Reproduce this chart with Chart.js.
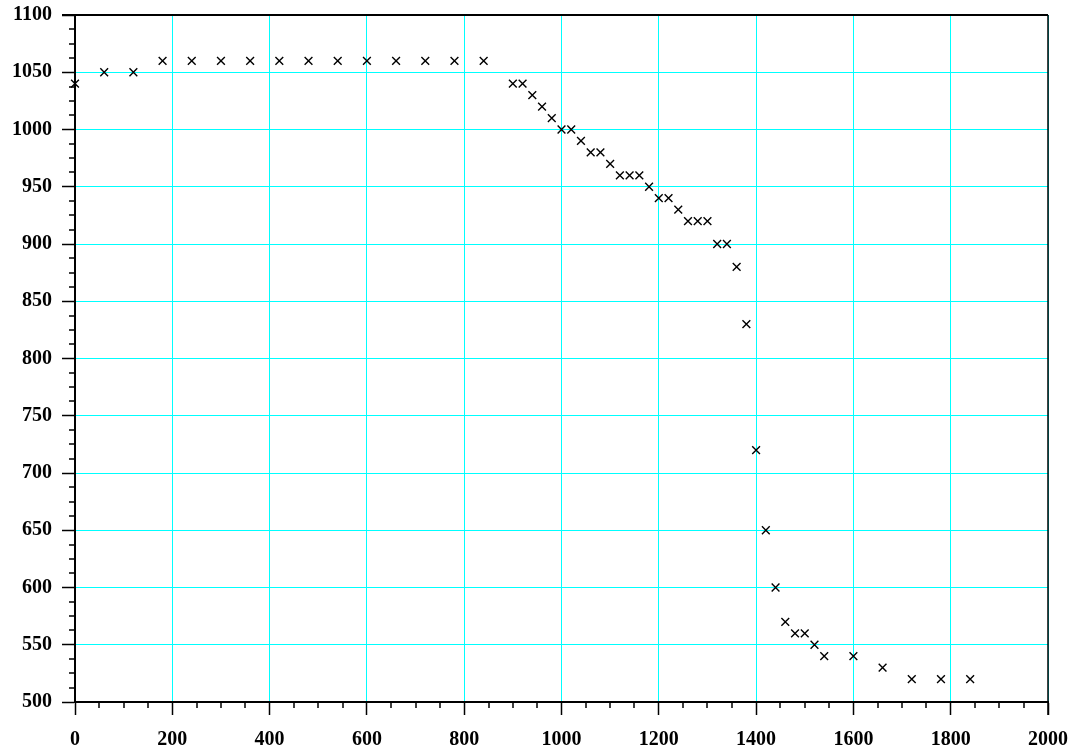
<!DOCTYPE html>
<html>
<head>
<meta charset="utf-8">
<script src="https://cdn.jsdelivr.net/npm/chart.js@4/dist/chart.umd.min.js"></script>
<style>
  html, body { margin: 0; padding: 0; background: #fff; }
  #wrap { width: 1068px; height: 752px; }
</style>
</head>
<body>
<div id="wrap"><canvas id="chart" width="1068" height="752"></canvas></div>
<script>
// time-like x values and readings
let xValues = [0, 60, 120, 180, 240, 300, 360, 420, 480, 540, 600, 660, 720, 780, 840,
    900, 920, 940, 960, 980, 1000, 1020, 1040, 1060, 1080, 1100, 1120, 1140, 1160, 1180,
    1200, 1220, 1240, 1260, 1280, 1300, 1320, 1340, 1360, 1380, 1400, 1420, 1440, 1460,
    1480, 1500, 1520, 1540, 1600, 1660, 1720, 1780, 1840];
let yValues = [1040, 1050, 1050, 1060, 1060, 1060, 1060, 1060, 1060, 1060, 1060, 1060, 1060, 1060, 1060,
    1040, 1040, 1030, 1020, 1010, 1000, 1000, 990, 980, 980, 970, 960, 960, 960, 950,
    940, 940, 930, 920, 920, 920, 900, 900, 880, 830, 720, 650, 600, 570,
    560, 560, 550, 540, 540, 530, 520, 520, 520];
let xRange = [0, 2000];
let yRange = [500, 1100];
let xMajor = 200, xMinor = 50;
let yMajor = 50, yMinor = 12.5;

let points = [];
for (let i = 0; i < xValues.length; i++) {
    points.push({ x: xValues[i], y: yValues[i] });
}

const cyan = 'rgb(0,255,255)';
const tickFont = { family: '"Liberation Serif", "Times New Roman", serif', size: 20, weight: 'bold', lineHeight: 1 };

// minor ticks and the top / right frame lines
const frame = {
    id: 'frame',
    afterDraw(chart) {
        const ctx = chart.ctx;
        const a = chart.chartArea;
        const sx = chart.scales.x, sy = chart.scales.y;
        ctx.save();
        ctx.strokeStyle = '#000';
        ctx.lineWidth = 1.5;
        ctx.beginPath();
        for (let v = xRange[0]; v <= xRange[1]; v += xMinor) {
            if (v % xMajor === 0) continue;
            let px = Math.round(sx.getPixelForValue(v));
            ctx.moveTo(px, a.bottom);
            ctx.lineTo(px, a.bottom + 6);
        }
        for (let v = yRange[0]; v <= yRange[1]; v += yMinor) {
            if (v % yMajor === 0) continue;
            let py = Math.round(sy.getPixelForValue(v));
            ctx.moveTo(a.left, py);
            ctx.lineTo(a.left - 6, py);
        }
        ctx.stroke();
        ctx.lineWidth = 2;
        ctx.beginPath();
        ctx.moveTo(a.left - 13, a.top);
        ctx.lineTo(a.right, a.top);
        ctx.stroke();
        ctx.lineWidth = 1.5;
        ctx.beginPath();
        ctx.moveTo(a.right, a.top);
        ctx.lineTo(a.right, a.bottom + 13);
        ctx.stroke();
        ctx.restore();
    }
};

new Chart(document.getElementById('chart').getContext('2d'), {
    type: 'scatter',
    data: {
        datasets: [{
            data: points,
            pointStyle: 'crossRot',
            pointRadius: 5.5,
            pointHoverRadius: 5.5,
            borderColor: '#000',
            backgroundColor: '#000',
            borderWidth: 1.4,
            clip: false
        }]
    },
    options: {
        responsive: false,
        animation: false,
        layout: { padding: { left: 0, right: 20, top: 15, bottom: 0 } },
        plugins: { legend: { display: false }, tooltip: { enabled: false } },
        scales: {
            x: {
                type: 'linear',
                min: xRange[0],
                max: xRange[1],
                afterFit: (s) => { s.height = 50; s.paddingLeft = 0; s.paddingRight = 0; },
                ticks: {
                    stepSize: xMajor,
                    autoSkip: false,
                    maxRotation: 0,
                    padding: 15,
                    color: '#000',
                    font: tickFont,
                    callback: (v) => String(v)
                },
                grid: {
                    color: cyan,
                    lineWidth: 1,
                    tickColor: '#000',
                    tickLength: 13,
                    tickWidth: 1.5
                },
                border: { color: '#000', width: 2 }
            },
            y: {
                type: 'linear',
                min: yRange[0],
                max: yRange[1],
                afterFit: (s) => { s.width = 75; s.paddingTop = 0; s.paddingBottom = 0; },
                ticks: {
                    stepSize: yMajor,
                    autoSkip: false,
                    padding: 10,
                    color: '#000',
                    font: tickFont,
                    callback: (v) => String(v)
                },
                grid: {
                    color: cyan,
                    lineWidth: 1,
                    tickColor: '#000',
                    tickLength: 13,
                    tickWidth: 1.5
                },
                border: { color: '#000', width: 2 }
            }
        }
    },
    plugins: [frame]
});
</script>
</body>
</html>
